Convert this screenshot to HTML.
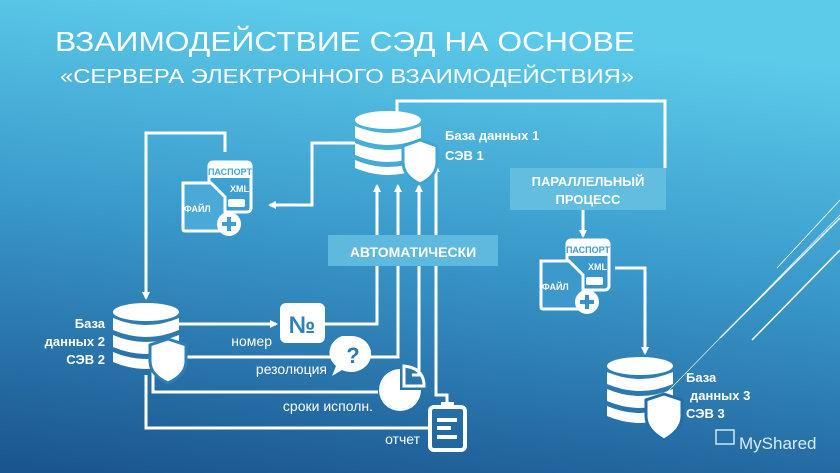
<!DOCTYPE html>
<html><head><meta charset="utf-8"><style>
html,body{margin:0;padding:0;}
body{width:840px;height:473px;overflow:hidden;}
svg{display:block;}
text{font-family:"Liberation Sans",sans-serif;fill:#fff;}
</style></head><body>
<svg width="840" height="473" viewBox="0 0 840 473" xmlns="http://www.w3.org/2000/svg">
<defs>
<linearGradient id="bg" x1="0.3" y1="0" x2="0.1" y2="1">
<stop offset="0" stop-color="#5ccbea"/>
<stop offset="0.45" stop-color="#3a9acb"/>
<stop offset="1" stop-color="#1b5590"/>
</linearGradient>
<marker id="ar" markerWidth="8" markerHeight="8" refX="6" refY="4" orient="auto" markerUnits="userSpaceOnUse">
<path d="M0,0 L8,4 L0,8 z" fill="#fff"/>
</marker>
</defs>
<rect width="840" height="473" fill="url(#bg)"/>

<g stroke="#fff" fill="none">
<line x1="720" y1="338" x2="840" y2="218" stroke-width="1.5"/>
<line x1="752" y1="340" x2="840" y2="250" stroke-width="1.5"/>
<line x1="777" y1="268" x2="840" y2="200" stroke-width="0.8"/>
<line x1="640" y1="420" x2="840" y2="215" stroke-width="0.6"/>
</g>

<text x="55" y="51" font-size="28" textLength="580" lengthAdjust="spacingAndGlyphs">ВЗАИМОДЕЙСТВИЕ СЭД НА ОСНОВЕ</text>
<text x="60" y="83" font-size="20" textLength="574" lengthAdjust="spacingAndGlyphs">«СЕРВЕРА ЭЛЕКТРОННОГО ВЗАИМОДЕЙСТВИЯ»</text>

<g stroke="#fff" stroke-width="3" fill="none">
<polyline points="397,112 397,101 665,101 665,168"/>
<polyline points="583,210 583,236" marker-end="url(#ar)"/>
<polyline points="615,268 645,268 645,353" marker-end="url(#ar)"/>
<polyline points="355,143 312,143 312,205 270,205" marker-end="url(#ar)"/>
<polyline points="225,152 225,133 146,133 146,298" marker-end="url(#ar)"/>
<polyline points="178,324 276,324" marker-end="url(#ar)"/>
<polyline points="325,324 377,324 377,186" marker-end="url(#ar)"/>
<polyline points="160,357 335,357"/>
<polyline points="370,357 398,357 398,186" marker-end="url(#ar)"/>
<polyline points="153,368 153,392 378,392"/>
<polyline points="412,375 419,375 419,186" marker-end="url(#ar)"/>
<polyline points="146,375 146,428 430,428"/>
<polyline points="447,405 447,395 436,395 436,166" marker-end="url(#ar)"/>
</g>

<rect x="328" y="235" width="170" height="31" fill="#5fb9de"/>
<text x="413" y="257" font-size="14" font-weight="bold" text-anchor="middle">АВТОМАТИЧЕСКИ</text>
<rect x="510" y="168" width="156" height="42" fill="#62bddf"/>
<text x="588" y="186" font-size="13" font-weight="bold" text-anchor="middle">ПАРАЛЛЕЛЬНЫЙ</text>
<text x="588" y="204" font-size="13" font-weight="bold" text-anchor="middle">ПРОЦЕСС</text>

<g fill="#fff">
<ellipse cx="388" cy="120" rx="33" ry="9"/>
<path d="M355,126 q33,14 66,0 v12 q-33,14 -66,0 z"/>
<path d="M355,143 q33,14 66,0 v12 q-33,14 -66,0 z"/>
<path d="M355,160 q33,14 66,0 v8 q-33,14 -66,0 z"/>
<path d="M420,140 l17,6 v16 q0,14 -17,22 q-17,-8 -17,-22 v-16 z" stroke="#3fa6d4" stroke-width="3"/>
</g>
<text x="445" y="140" font-size="13" font-weight="bold">База данных 1</text>
<text x="445" y="160" font-size="13" font-weight="bold">СЭВ 1</text>

<g fill="#fff">
<ellipse cx="146" cy="312" rx="33" ry="9"/>
<path d="M113,318 q33,14 66,0 v12 q-33,14 -66,0 z"/>
<path d="M113,335 q33,14 66,0 v12 q-33,14 -66,0 z"/>
<path d="M113,352 q33,14 66,0 v10 q-33,14 -66,0 z"/>
<path d="M168,339 l18,6 v16 q0,14 -18,22 q-18,-8 -18,-22 v-16 z" stroke="#2c80b8" stroke-width="3"/>
</g>
<text x="105" y="328" font-size="13" font-weight="bold" text-anchor="end">База</text>
<text x="105" y="346" font-size="13" font-weight="bold" text-anchor="end">данных 2</text>
<text x="105" y="364" font-size="13" font-weight="bold" text-anchor="end">СЭВ 2</text>

<g fill="#fff">
<ellipse cx="640" cy="366" rx="33" ry="9"/>
<path d="M607,372 q33,14 66,0 v12 q-33,14 -66,0 z"/>
<path d="M607,389 q33,14 66,0 v12 q-33,14 -66,0 z"/>
<path d="M607,406 q33,14 66,0 v10 q-33,14 -66,0 z"/>
<path d="M664,394 l18,6 v16 q0,14 -18,24 q-18,-10 -18,-24 v-16 z" stroke="#236ea8" stroke-width="3"/>
</g>
<text x="686" y="382" font-size="13" font-weight="bold">База</text>
<text x="690" y="400" font-size="13" font-weight="bold">данных 3</text>
<text x="686" y="418" font-size="13" font-weight="bold">СЭВ 3</text>

<g>
<rect x="209" y="162" width="42" height="50" rx="4" fill="none" stroke="#fff" stroke-width="3"/>
<rect x="209" y="162" width="42" height="16" fill="#fff"/>
<path d="M183,183 h28 l14,14 v34 h-40 q-2,0 -2,-2 z" fill="#4aa9d6" stroke="#fff" stroke-width="3"/>
<rect x="228" y="199" width="17" height="8" rx="2" fill="#fff"/>
<circle cx="229" cy="224" r="12" fill="#fff"/>
<path d="M229,217 v14 M222,224 h14" stroke="#3f9fd0" stroke-width="4"/>
<text x="230" y="175" font-size="9" font-weight="bold" text-anchor="middle" style="fill:#3fa6d4">ПАСПОРТ</text>
<text x="249" y="192" font-size="9" font-weight="bold" text-anchor="end">XML</text>
<text x="184" y="212" font-size="9" font-weight="bold">ФАЙЛ</text>
</g>
<g transform="translate(358,78)">
<rect x="209" y="162" width="42" height="50" rx="4" fill="none" stroke="#fff" stroke-width="3"/>
<rect x="209" y="162" width="42" height="16" fill="#fff"/>
<path d="M183,183 h28 l14,14 v34 h-40 q-2,0 -2,-2 z" fill="#3d98cb" stroke="#fff" stroke-width="3"/>
<rect x="228" y="199" width="17" height="8" rx="2" fill="#fff"/>
<circle cx="229" cy="224" r="12" fill="#fff"/>
<path d="M229,217 v14 M222,224 h14" stroke="#3790c6" stroke-width="4"/>
<text x="230" y="175" font-size="9" font-weight="bold" text-anchor="middle" style="fill:#3a9ccf">ПАСПОРТ</text>
<text x="249" y="192" font-size="9" font-weight="bold" text-anchor="end">XML</text>
<text x="184" y="212" font-size="9" font-weight="bold">ФАЙЛ</text>
</g>

<rect x="280" y="303" width="45" height="40" rx="6" fill="#fff"/>
<text x="302" y="333" font-size="24" font-weight="bold" text-anchor="middle" style="fill:#2e82bb">№</text>
<text x="272" y="346" font-size="14" text-anchor="end">номер</text>
<path d="M352,336 a20,18 0 1,1 -10,34 l-10,6 l4,-10 a20,18 0 0,1 6,-30 z" fill="#fff"/>
<text x="353" y="363" font-size="22" font-weight="bold" text-anchor="middle" style="fill:#2a78b2">?</text>
<text x="327" y="374" font-size="14" text-anchor="end">резолюция</text>
<path d="M400,369 a21,21 0 1,0 21,21 h-21 z" fill="#fff"/>
<path d="M404,366 v20 h20 q0,-18 -20,-20 z" fill="none" stroke="#fff" stroke-width="3"/>
<text x="373" y="411" font-size="14" text-anchor="end">сроки исполн.</text>
<rect x="430" y="407" width="35" height="43" rx="4" fill="none" stroke="#fff" stroke-width="4"/>
<rect x="441" y="402" width="13" height="7" fill="#fff"/>
<path d="M437,420 h20 M437,428 h14 M437,437 h20" stroke="#fff" stroke-width="4"/>
<text x="420" y="444" font-size="14" text-anchor="end">отчет</text>

<rect x="716" y="430" width="18" height="14" fill="none" stroke="#cfe6f5" stroke-width="1.5"/>
<text x="739" y="449" font-size="17" style="fill:#d6ebf7">MyShared</text>
</svg>
</body></html>
